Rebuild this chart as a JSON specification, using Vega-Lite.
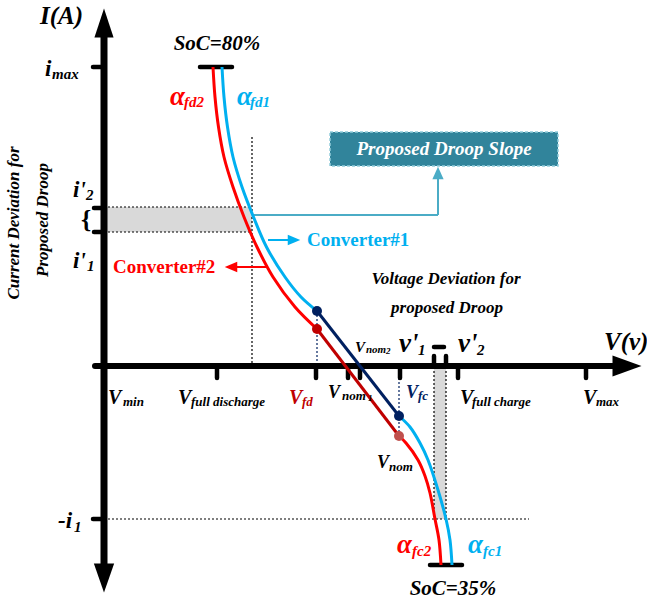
{
  "$schema": "https://vega.github.io/schema/vega-lite/v6.json",
  "width": 647,
  "height": 603,
  "autosize": "none",
  "padding": 0,
  "background": "white",
  "config": {"view": {"stroke": null}},
  "datasets": {
    "shades": [
      {"v": 0, "i": 134, "v2": 148, "i2": 159},
      {"v": 330, "i": -153, "v2": 342, "i2": 0}
    ],
    "guides": [
      {"v": 148, "i": 229, "v2": 148, "i2": 0},
      {"v": 0, "i": 159, "v2": 148, "i2": 159},
      {"v": 0, "i": 134, "v2": 148, "i2": 134},
      {"v": 0, "i": -153, "v2": 425, "i2": -153},
      {"v": 330, "i": 11, "v2": 330, "i2": -153},
      {"v": 342, "i": 11, "v2": 342, "i2": -153}
    ],
    "nomGuides": [
      {"v": 213, "i": 55, "v2": 213, "i2": 0},
      {"v": 295, "i": 0, "v2": 295, "i2": -70}
    ],
    "slopeBox": [
      {"v": 226, "i": 200, "v2": 454, "i2": 234}
    ],
    "pointerLines": [
      {"v": 148, "i": 151, "v2": 334, "i2": 151, "tone": "teal"},
      {"v": 334, "i": 151, "v2": 334, "i2": 190, "tone": "teal"},
      {"v": 164, "i": 126, "v2": 188, "i2": 126, "tone": "blue"},
      {"v": 163, "i": 99, "v2": 126, "i2": 99, "tone": "red"}
    ],
    "currentAxis": [
      {"v": 0, "i": 334, "v2": 0, "i2": -203}
    ],
    "voltageAxis": [
      {"v": -9, "i": 0, "v2": 515, "i2": 0}
    ],
    "ticks": [
      {"v": -11, "i": 299, "v2": 0, "i2": 299},
      {"v": -10, "i": 158, "v2": 0, "i2": 158},
      {"v": -10, "i": 134, "v2": 0, "i2": 134},
      {"v": -11, "i": -153, "v2": 0, "i2": -153},
      {"v": 113, "i": 0, "v2": 113, "i2": -12},
      {"v": 212, "i": 0, "v2": 212, "i2": -12},
      {"v": 244, "i": 0, "v2": 244, "i2": -12},
      {"v": 256, "i": 0, "v2": 256, "i2": -12},
      {"v": 296, "i": 0, "v2": 296, "i2": -12},
      {"v": 354, "i": 0, "v2": 354, "i2": -12},
      {"v": 482, "i": 0, "v2": 482, "i2": -12},
      {"v": 330, "i": 0, "v2": 330, "i2": 10},
      {"v": 342, "i": 0, "v2": 342, "i2": 10},
      {"v": 330, "i": 19, "v2": 340, "i2": 19},
      {"v": 96, "i": 299, "v2": 128, "i2": 299},
      {"v": 326, "i": -199, "v2": 358, "i2": -199}
    ],
    "curves": [
      {"part": "c1top", "tone": "blue", "k": 0, "v": 118, "i": 299},
      {"part": "c1top", "tone": "blue", "k": 1, "v": 120, "i": 269},
      {"part": "c1top", "tone": "blue", "k": 2, "v": 123.5, "i": 239},
      {"part": "c1top", "tone": "blue", "k": 3, "v": 129, "i": 209},
      {"part": "c1top", "tone": "blue", "k": 4, "v": 138, "i": 179},
      {"part": "c1top", "tone": "blue", "k": 5, "v": 149.5, "i": 149},
      {"part": "c1top", "tone": "blue", "k": 6, "v": 162.5, "i": 119},
      {"part": "c1top", "tone": "blue", "k": 7, "v": 181, "i": 89},
      {"part": "c1top", "tone": "blue", "k": 8, "v": 197, "i": 69},
      {"part": "c1top", "tone": "blue", "k": 9, "v": 213, "i": 55},
      {"part": "c2top", "tone": "red", "k": 0, "v": 109, "i": 299},
      {"part": "c2top", "tone": "red", "k": 1, "v": 111, "i": 269},
      {"part": "c2top", "tone": "red", "k": 2, "v": 114.5, "i": 239},
      {"part": "c2top", "tone": "red", "k": 3, "v": 120, "i": 209},
      {"part": "c2top", "tone": "red", "k": 4, "v": 129, "i": 179},
      {"part": "c2top", "tone": "red", "k": 5, "v": 140, "i": 149},
      {"part": "c2top", "tone": "red", "k": 6, "v": 153, "i": 119},
      {"part": "c2top", "tone": "red", "k": 7, "v": 169, "i": 89},
      {"part": "c2top", "tone": "red", "k": 8, "v": 191, "i": 59},
      {"part": "c2top", "tone": "red", "k": 9, "v": 213, "i": 37},
      {"part": "c1mid", "tone": "navy", "k": 0, "v": 213, "i": 55},
      {"part": "c1mid", "tone": "navy", "k": 1, "v": 295, "i": -50},
      {"part": "c2mid", "tone": "darkred", "k": 0, "v": 213, "i": 37},
      {"part": "c2mid", "tone": "darkred", "k": 1, "v": 295, "i": -70},
      {"part": "c1low", "tone": "blue", "k": 0, "v": 295, "i": -50},
      {"part": "c1low", "tone": "blue", "k": 1, "v": 306, "i": -61},
      {"part": "c1low", "tone": "blue", "k": 2, "v": 316, "i": -77},
      {"part": "c1low", "tone": "blue", "k": 3, "v": 324, "i": -94},
      {"part": "c1low", "tone": "blue", "k": 4, "v": 334, "i": -124},
      {"part": "c1low", "tone": "blue", "k": 5, "v": 342, "i": -153},
      {"part": "c1low", "tone": "blue", "k": 6, "v": 346, "i": -174},
      {"part": "c1low", "tone": "blue", "k": 7, "v": 348, "i": -199},
      {"part": "c2low", "tone": "red", "k": 0, "v": 295, "i": -70},
      {"part": "c2low", "tone": "red", "k": 1, "v": 302, "i": -77},
      {"part": "c2low", "tone": "red", "k": 2, "v": 314, "i": -94},
      {"part": "c2low", "tone": "red", "k": 3, "v": 321, "i": -110},
      {"part": "c2low", "tone": "red", "k": 4, "v": 326, "i": -127},
      {"part": "c2low", "tone": "red", "k": 5, "v": 331, "i": -153},
      {"part": "c2low", "tone": "red", "k": 6, "v": 335, "i": -174},
      {"part": "c2low", "tone": "red", "k": 7, "v": 337, "i": -199}
    ],
    "nominalPoints": [
      {"v": 213, "i": 55, "tone": "navy"},
      {"v": 295, "i": -50, "tone": "navy"},
      {"v": 213, "i": 37, "tone": "darkred"},
      {"v": 295, "i": -70, "tone": "rust"}
    ],
    "axisHeads": [
      {"v": 0, "i": 343, "dir": "up"},
      {"v": 0, "i": -212, "dir": "down"},
      {"v": 523, "i": 0, "dir": "right"}
    ],
    "pointerHeads": [
      {"v": 334, "i": 193, "dir": "pUp", "tone": "teal"},
      {"v": 190, "i": 126, "dir": "pRight", "tone": "blue"},
      {"v": 127, "i": 99, "dir": "pLeft", "tone": "red"}
    ],
    "labels": [
      {"t": "I(A)", "v": -64, "i": 342, "role": "axisName", "tone": "black"},
      {"t": "V(v)", "v": 500, "i": 16, "role": "axisName", "tone": "black"},
      {"t": "i", "v": -59, "i": 290, "role": "symbol", "tone": "black"},
      {"t": "max", "v": -52, "i": 287, "role": "index", "tone": "black"},
      {"t": "i'", "v": -31, "i": 169, "role": "symbol", "tone": "black"},
      {"t": "2", "v": -18, "i": 166, "role": "index", "tone": "black"},
      {"t": "i'", "v": -31, "i": 98, "role": "symbol", "tone": "black"},
      {"t": "1", "v": -17, "i": 95, "role": "index", "tone": "black"},
      {"t": "-i", "v": -46, "i": -162, "role": "symbol", "tone": "black"},
      {"t": "1", "v": -30, "i": -166, "role": "index", "tone": "black"},
      {"t": "α", "v": 66, "i": 261, "role": "greek", "tone": "red"},
      {"t": "fd2", "v": 80, "i": 259, "role": "index", "tone": "red"},
      {"t": "α", "v": 133, "i": 261, "role": "greek", "tone": "blue"},
      {"t": "fd1", "v": 146, "i": 259, "role": "index", "tone": "blue"},
      {"t": "α", "v": 293, "i": -187, "role": "greek", "tone": "red"},
      {"t": "fc2", "v": 308, "i": -190, "role": "index", "tone": "red"},
      {"t": "α", "v": 364, "i": -187, "role": "greek", "tone": "blue"},
      {"t": "fc1", "v": 379, "i": -190, "role": "index", "tone": "blue"},
      {"t": "v'", "v": 295, "i": 14, "role": "greek", "tone": "black"},
      {"t": "1", "v": 314, "i": 11, "role": "index", "tone": "black"},
      {"t": "v'", "v": 354, "i": 14, "role": "greek", "tone": "black"},
      {"t": "2", "v": 373, "i": 11, "role": "index", "tone": "black"},
      {"t": "V", "v": 4, "i": -38, "role": "volt", "tone": "black"},
      {"t": "min", "v": 19, "i": -40, "role": "subscript", "tone": "black"},
      {"t": "V", "v": 74, "i": -38, "role": "volt", "tone": "black"},
      {"t": "full discharge", "v": 87, "i": -40, "role": "subscript", "tone": "black"},
      {"t": "V", "v": 185, "i": -38, "role": "volt", "tone": "darkred"},
      {"t": "fd", "v": 198, "i": -40, "role": "subscript", "tone": "darkred"},
      {"t": "V", "v": 224, "i": -32, "role": "voltSmall", "tone": "black"},
      {"t": "nom", "v": 238, "i": -34, "role": "subscript", "tone": "black"},
      {"t": "1", "v": 264, "i": -35, "role": "subIndex", "tone": "black"},
      {"t": "V", "v": 302, "i": -32, "role": "voltSmall", "tone": "navy"},
      {"t": "fc", "v": 314, "i": -34, "role": "subscript", "tone": "navy"},
      {"t": "V", "v": 356, "i": -38, "role": "volt", "tone": "black"},
      {"t": "full charge", "v": 368, "i": -40, "role": "subscript", "tone": "black"},
      {"t": "V", "v": 479, "i": -38, "role": "volt", "tone": "black"},
      {"t": "max", "v": 492, "i": -40, "role": "subscript", "tone": "black"},
      {"t": "V", "v": 251, "i": 14, "role": "index", "tone": "black"},
      {"t": "nom", "v": 262, "i": 13, "role": "subscriptSmall", "tone": "black"},
      {"t": "2", "v": 282, "i": 12, "role": "subIndex", "tone": "black"},
      {"t": "V", "v": 273, "i": -102, "role": "voltSmall", "tone": "black"},
      {"t": "nom", "v": 285, "i": -105, "role": "subscript", "tone": "black"}
    ],
    "notes": [
      {"t": "SoC=80%", "v": 113, "i": 316, "role": "soc", "tone": "black"},
      {"t": "SoC=35%", "v": 349, "i": -229, "role": "soc", "tone": "black"},
      {"t": "Voltage Deviation for", "v": 342, "i": 82, "role": "note", "tone": "black"},
      {"t": "proposed Droop", "v": 343, "i": 53, "role": "note", "tone": "black"},
      {"t": "Proposed Droop Slope", "v": 340, "i": 211, "role": "box", "tone": "white"}
    ],
    "currentTitle": [
      {"t": "Current Deviation for", "v": -90, "i": 143},
      {"t": "Proposed Droop", "v": -61, "i": 146}
    ],
    "converters": [
      {"t": "Converter#1", "v": 203, "i": 126, "tone": "blue"},
      {"t": "Converter#2", "v": 9, "i": 99, "tone": "red"}
    ],
    "brace": [
      {"t": "{", "v": -18, "i": 146}
    ]
  },
  "encoding": {
    "x": {"field": "v", "type": "quantitative", "scale": {"domain": [-104, 543], "nice": false, "zero": false}, "axis": null},
    "y": {"field": "i", "type": "quantitative", "scale": {"domain": [-237, 366], "nice": false, "zero": false}, "axis": null}
  },
  "layer": [
    {
      "data": {"name": "shades"},
      "mark": {"type": "rect", "color": "#D9D9D9"},
      "encoding": {"x2": {"field": "v2"}, "y2": {"field": "i2"}}
    },
    {
      "data": {"name": "guides"},
      "mark": {"type": "rule", "color": "#000000", "strokeWidth": 1.2, "strokeDash": [2, 2]},
      "encoding": {"x2": {"field": "v2"}, "y2": {"field": "i2"}}
    },
    {
      "data": {"name": "nomGuides"},
      "mark": {"type": "rule", "color": "#002060", "strokeWidth": 1.2, "strokeDash": [2, 2]},
      "encoding": {"x2": {"field": "v2"}, "y2": {"field": "i2"}}
    },
    {
      "data": {"name": "slopeBox"},
      "mark": {"type": "rect", "fill": "#31849B", "stroke": "#92CDDC", "strokeWidth": 1.5, "strokeDash": [3, 2]},
      "encoding": {"x2": {"field": "v2"}, "y2": {"field": "i2"}}
    },
    {
      "data": {"name": "pointerLines"},
      "mark": {"type": "rule", "strokeWidth": 2},
      "encoding": {
        "x2": {"field": "v2"}, "y2": {"field": "i2"},
        "color": {"field": "tone", "type": "nominal", "legend": null, "scale": {"domain": ["black", "red", "blue", "navy", "darkred", "rust", "white", "teal"], "range": ["#000000", "#FF0000", "#00B0F0", "#002060", "#C00000", "#C0504D", "#FFFFFF", "#4BACC6"]}}
      }
    },
    {
      "data": {"name": "currentAxis"},
      "mark": {"type": "rule", "color": "#000000", "strokeWidth": 7},
      "encoding": {"x2": {"field": "v2"}, "y2": {"field": "i2"}}
    },
    {
      "data": {"name": "voltageAxis"},
      "mark": {"type": "rule", "color": "#000000", "strokeWidth": 6, "strokeCap": "round"},
      "encoding": {"x2": {"field": "v2"}, "y2": {"field": "i2"}}
    },
    {
      "data": {"name": "ticks"},
      "mark": {"type": "rule", "color": "#000000", "strokeWidth": 4.5, "strokeCap": "round"},
      "encoding": {"x2": {"field": "v2"}, "y2": {"field": "i2"}}
    },
    {
      "data": {"name": "curves"},
      "mark": {"type": "line", "strokeWidth": 3, "interpolate": "catmull-rom"},
      "encoding": {
        "detail": {"field": "part"},
        "order": {"field": "k", "type": "quantitative"},
        "color": {"field": "tone", "type": "nominal", "legend": null, "scale": {"domain": ["black", "red", "blue", "navy", "darkred", "rust", "white", "teal"], "range": ["#000000", "#FF0000", "#00B0F0", "#002060", "#C00000", "#C0504D", "#FFFFFF", "#4BACC6"]}}
      }
    },
    {
      "data": {"name": "nominalPoints"},
      "mark": {"type": "point", "filled": true, "size": 100, "opacity": 1},
      "encoding": {
        "color": {"field": "tone", "type": "nominal", "legend": null, "scale": {"domain": ["black", "red", "blue", "navy", "darkred", "rust", "white", "teal"], "range": ["#000000", "#FF0000", "#00B0F0", "#002060", "#C00000", "#C0504D", "#FFFFFF", "#4BACC6"]}}
      }
    },
    {
      "data": {"name": "axisHeads"},
      "mark": {"type": "point", "filled": true, "size": 841, "opacity": 1, "color": "#000000", "strokeWidth": 0},
      "encoding": {
        "shape": {"field": "dir", "type": "nominal", "legend": null, "scale": {"domain": ["up", "down", "right", "pUp", "pRight", "pLeft"], "range": ["M0,-1L0.66,1L-0.66,1Z", "M0,1L0.7,-1L-0.7,-1Z", "M1,0L-1,-0.72L-1,0.72Z", "M0,-1L0.9,1L-0.9,1Z", "M1,0L-1,-0.85L-1,0.85Z", "M-1,0L1,-0.85L1,0.85Z"]}}
      }
    },
    {
      "data": {"name": "pointerHeads"},
      "mark": {"type": "point", "filled": true, "size": 156, "opacity": 1, "strokeWidth": 0},
      "encoding": {
        "shape": {"field": "dir", "type": "nominal", "legend": null, "scale": {"domain": ["up", "down", "right", "pUp", "pRight", "pLeft"], "range": ["M0,-1L0.66,1L-0.66,1Z", "M0,1L0.7,-1L-0.7,-1Z", "M1,0L-1,-0.72L-1,0.72Z", "M0,-1L0.9,1L-0.9,1Z", "M1,0L-1,-0.85L-1,0.85Z", "M-1,0L1,-0.85L1,0.85Z"]}},
        "color": {"field": "tone", "type": "nominal", "legend": null, "scale": {"domain": ["black", "red", "blue", "navy", "darkred", "rust", "white", "teal"], "range": ["#000000", "#FF0000", "#00B0F0", "#002060", "#C00000", "#C0504D", "#FFFFFF", "#4BACC6"]}}
      }
    },
    {
      "data": {"name": "labels"},
      "transform": [{"filter": "datum.role === 'axisName'"}],
      "mark": {"type": "text", "font": "Liberation Serif", "fontWeight": "bold", "fontStyle": "italic", "fontSize": 25, "align": "left", "baseline": "alphabetic"},
      "encoding": {"text": {"field": "t"}, "color": {"field": "tone", "type": "nominal", "legend": null, "scale": {"domain": ["black", "red", "blue", "navy", "darkred", "rust", "white", "teal"], "range": ["#000000", "#FF0000", "#00B0F0", "#002060", "#C00000", "#C0504D", "#FFFFFF", "#4BACC6"]}}}
    },
    {
      "data": {"name": "labels"},
      "transform": [{"filter": "datum.role === 'symbol'"}],
      "mark": {"type": "text", "font": "Liberation Serif", "fontWeight": "bold", "fontStyle": "italic", "fontSize": 23, "align": "left", "baseline": "alphabetic"},
      "encoding": {"text": {"field": "t"}, "color": {"field": "tone", "type": "nominal", "legend": null, "scale": {"domain": ["black", "red", "blue", "navy", "darkred", "rust", "white", "teal"], "range": ["#000000", "#FF0000", "#00B0F0", "#002060", "#C00000", "#C0504D", "#FFFFFF", "#4BACC6"]}}}
    },
    {
      "data": {"name": "labels"},
      "transform": [{"filter": "datum.role === 'greek'"}],
      "mark": {"type": "text", "font": "Liberation Serif", "fontWeight": "bold", "fontStyle": "italic", "fontSize": 27, "align": "left", "baseline": "alphabetic"},
      "encoding": {"text": {"field": "t"}, "color": {"field": "tone", "type": "nominal", "legend": null, "scale": {"domain": ["black", "red", "blue", "navy", "darkred", "rust", "white", "teal"], "range": ["#000000", "#FF0000", "#00B0F0", "#002060", "#C00000", "#C0504D", "#FFFFFF", "#4BACC6"]}}}
    },
    {
      "data": {"name": "labels"},
      "transform": [{"filter": "datum.role === 'volt'"}],
      "mark": {"type": "text", "font": "Liberation Serif", "fontWeight": "bold", "fontStyle": "italic", "fontSize": 20, "align": "left", "baseline": "alphabetic"},
      "encoding": {"text": {"field": "t"}, "color": {"field": "tone", "type": "nominal", "legend": null, "scale": {"domain": ["black", "red", "blue", "navy", "darkred", "rust", "white", "teal"], "range": ["#000000", "#FF0000", "#00B0F0", "#002060", "#C00000", "#C0504D", "#FFFFFF", "#4BACC6"]}}}
    },
    {
      "data": {"name": "labels"},
      "transform": [{"filter": "datum.role === 'voltSmall'"}],
      "mark": {"type": "text", "font": "Liberation Serif", "fontWeight": "bold", "fontStyle": "italic", "fontSize": 18, "align": "left", "baseline": "alphabetic"},
      "encoding": {"text": {"field": "t"}, "color": {"field": "tone", "type": "nominal", "legend": null, "scale": {"domain": ["black", "red", "blue", "navy", "darkred", "rust", "white", "teal"], "range": ["#000000", "#FF0000", "#00B0F0", "#002060", "#C00000", "#C0504D", "#FFFFFF", "#4BACC6"]}}}
    },
    {
      "data": {"name": "labels"},
      "transform": [{"filter": "datum.role === 'index'"}],
      "mark": {"type": "text", "font": "Liberation Serif", "fontWeight": "bold", "fontStyle": "italic", "fontSize": 15, "align": "left", "baseline": "alphabetic"},
      "encoding": {"text": {"field": "t"}, "color": {"field": "tone", "type": "nominal", "legend": null, "scale": {"domain": ["black", "red", "blue", "navy", "darkred", "rust", "white", "teal"], "range": ["#000000", "#FF0000", "#00B0F0", "#002060", "#C00000", "#C0504D", "#FFFFFF", "#4BACC6"]}}}
    },
    {
      "data": {"name": "labels"},
      "transform": [{"filter": "datum.role === 'subscript'"}],
      "mark": {"type": "text", "font": "Liberation Serif", "fontWeight": "bold", "fontStyle": "italic", "fontSize": 13, "align": "left", "baseline": "alphabetic"},
      "encoding": {"text": {"field": "t"}, "color": {"field": "tone", "type": "nominal", "legend": null, "scale": {"domain": ["black", "red", "blue", "navy", "darkred", "rust", "white", "teal"], "range": ["#000000", "#FF0000", "#00B0F0", "#002060", "#C00000", "#C0504D", "#FFFFFF", "#4BACC6"]}}}
    },
    {
      "data": {"name": "labels"},
      "transform": [{"filter": "datum.role === 'subscriptSmall'"}],
      "mark": {"type": "text", "font": "Liberation Serif", "fontWeight": "bold", "fontStyle": "italic", "fontSize": 11, "align": "left", "baseline": "alphabetic"},
      "encoding": {"text": {"field": "t"}, "color": {"field": "tone", "type": "nominal", "legend": null, "scale": {"domain": ["black", "red", "blue", "navy", "darkred", "rust", "white", "teal"], "range": ["#000000", "#FF0000", "#00B0F0", "#002060", "#C00000", "#C0504D", "#FFFFFF", "#4BACC6"]}}}
    },
    {
      "data": {"name": "labels"},
      "transform": [{"filter": "datum.role === 'subIndex'"}],
      "mark": {"type": "text", "font": "Liberation Serif", "fontWeight": "bold", "fontStyle": "italic", "fontSize": 9, "align": "left", "baseline": "alphabetic"},
      "encoding": {"text": {"field": "t"}, "color": {"field": "tone", "type": "nominal", "legend": null, "scale": {"domain": ["black", "red", "blue", "navy", "darkred", "rust", "white", "teal"], "range": ["#000000", "#FF0000", "#00B0F0", "#002060", "#C00000", "#C0504D", "#FFFFFF", "#4BACC6"]}}}
    },
    {
      "data": {"name": "notes"},
      "transform": [{"filter": "datum.role === 'soc'"}],
      "mark": {"type": "text", "font": "Liberation Serif", "fontWeight": "bold", "fontStyle": "italic", "fontSize": 21, "align": "center", "baseline": "alphabetic"},
      "encoding": {"text": {"field": "t"}, "color": {"field": "tone", "type": "nominal", "legend": null, "scale": {"domain": ["black", "red", "blue", "navy", "darkred", "rust", "white", "teal"], "range": ["#000000", "#FF0000", "#00B0F0", "#002060", "#C00000", "#C0504D", "#FFFFFF", "#4BACC6"]}}}
    },
    {
      "data": {"name": "notes"},
      "transform": [{"filter": "datum.role === 'note'"}],
      "mark": {"type": "text", "font": "Liberation Serif", "fontWeight": "bold", "fontStyle": "italic", "fontSize": 17, "align": "center", "baseline": "alphabetic"},
      "encoding": {"text": {"field": "t"}, "color": {"field": "tone", "type": "nominal", "legend": null, "scale": {"domain": ["black", "red", "blue", "navy", "darkred", "rust", "white", "teal"], "range": ["#000000", "#FF0000", "#00B0F0", "#002060", "#C00000", "#C0504D", "#FFFFFF", "#4BACC6"]}}}
    },
    {
      "data": {"name": "notes"},
      "transform": [{"filter": "datum.role === 'box'"}],
      "mark": {"type": "text", "font": "Liberation Serif", "fontWeight": "bold", "fontStyle": "italic", "fontSize": 19, "align": "center", "baseline": "alphabetic"},
      "encoding": {"text": {"field": "t"}, "color": {"field": "tone", "type": "nominal", "legend": null, "scale": {"domain": ["black", "red", "blue", "navy", "darkred", "rust", "white", "teal"], "range": ["#000000", "#FF0000", "#00B0F0", "#002060", "#C00000", "#C0504D", "#FFFFFF", "#4BACC6"]}}}
    },
    {
      "data": {"name": "currentTitle"},
      "mark": {"type": "text", "font": "Liberation Serif", "fontWeight": "bold", "fontStyle": "italic", "fontSize": 17, "align": "center", "baseline": "middle", "angle": 270, "color": "#000000"},
      "encoding": {"text": {"field": "t"}}
    },
    {
      "data": {"name": "converters"},
      "mark": {"type": "text", "font": "Liberation Serif", "fontWeight": "bold", "fontSize": 19, "align": "left", "baseline": "middle"},
      "encoding": {"text": {"field": "t"}, "color": {"field": "tone", "type": "nominal", "legend": null, "scale": {"domain": ["black", "red", "blue", "navy", "darkred", "rust", "white", "teal"], "range": ["#000000", "#FF0000", "#00B0F0", "#002060", "#C00000", "#C0504D", "#FFFFFF", "#4BACC6"]}}}
    },
    {
      "data": {"name": "brace"},
      "mark": {"type": "text", "font": "Liberation Serif", "fontWeight": "bold", "fontSize": 26, "align": "center", "baseline": "middle", "color": "#000000"},
      "encoding": {"text": {"field": "t"}}
    }
  ]
}
